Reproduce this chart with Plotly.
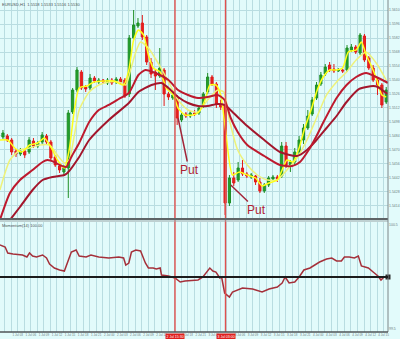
import plotly.graph_objects as go

# ---------------- data ----------------
candle_idx = list(range(89))
opens = [1.5483,1.5484,1.5480,1.5469,1.5466,1.5469,1.5468,1.5479,1.5474,1.5478,
         1.5484,1.5478,1.5463,1.5454,1.5448,1.5452,1.5508,1.5530,1.5548,1.5533,
         1.5532,1.5542,1.5538,1.5540,1.5537,1.5540,1.5538,1.5541,1.5540,1.5526,
         1.5582,1.5594,1.5597,1.5583,1.5558,1.5548,1.5544,1.5550,1.5526,1.5522,
         1.5523,1.5500,1.5506,1.5504,1.5507,1.5507,1.5515,1.5528,1.5543,1.5536,
         1.5516,1.5515,1.5417,1.5442,1.5440,1.5452,1.5446,1.5443,1.5444,1.5438,
         1.5429,1.5435,1.5441,1.5443,1.5444,1.5474,1.5455,1.5458,1.5468,1.5480,
         1.5492,1.5506,1.5522,1.5536,1.5546,1.5555,1.5551,1.5549,1.5550,1.5550,
         1.5570,1.5573,1.5567,1.5584,1.5562,1.5552,1.5540,1.5535,1.5518]
highs = [1.5490,1.5486,1.5482,1.5471,1.5472,1.5471,1.5483,1.5482,1.5479,1.5488,
         1.5486,1.5480,1.5465,1.5458,1.5455,1.5510,1.5532,1.5553,1.5550,1.5535,
         1.5546,1.5544,1.5542,1.5541,1.5542,1.5542,1.5543,1.5543,1.5542,1.5585,
         1.5610,1.5602,1.5605,1.5585,1.5562,1.5550,1.5572,1.5552,1.5528,1.5527,
         1.5525,1.5507,1.5508,1.5509,1.5510,1.5514,1.5528,1.5547,1.5545,1.5538,
         1.5520,1.5520,1.5445,1.5448,1.5458,1.5460,1.5448,1.5447,1.5445,1.5442,
         1.5437,1.5444,1.5445,1.5445,1.5478,1.5478,1.5460,1.5472,1.5484,1.5496,
         1.5510,1.5523,1.5538,1.5548,1.5556,1.5558,1.5556,1.5552,1.5551,1.5575,
         1.5576,1.5575,1.5587,1.5586,1.5564,1.5555,1.5543,1.5537,1.5533]
lows = [1.5481,1.5478,1.5465,1.5463,1.5464,1.5462,1.5466,1.5472,1.5472,1.5476,
        1.5476,1.5460,1.5453,1.5447,1.5445,1.5422,1.5506,1.5528,1.5530,1.5528,
        1.5530,1.5537,1.5536,1.5536,1.5535,1.5535,1.5536,1.5536,1.5522,1.5523,
        1.5580,1.5592,1.5580,1.5555,1.5542,1.5530,1.5542,1.5514,1.5520,1.5520,
        1.5495,1.5498,1.5502,1.5502,1.5504,1.5505,1.5512,1.5526,1.5534,1.5512,
        1.5510,1.5405,1.5414,1.5434,1.5438,1.5444,1.5442,1.5441,1.5435,1.5427,
        1.5427,1.5433,1.5439,1.5438,1.5442,1.5452,1.5448,1.5454,1.5466,1.5476,
        1.5490,1.5504,1.5520,1.5534,1.5544,1.5548,1.5547,1.5548,1.5547,1.5548,
        1.5568,1.5566,1.5565,1.5558,1.5550,1.5538,1.5525,1.5512,1.5516]
closes = [1.5487,1.5480,1.5468,1.5466,1.5469,1.5465,1.5480,1.5474,1.5477,1.5485,
          1.5478,1.5462,1.5455,1.5450,1.5452,1.5507,1.5530,1.5550,1.5532,1.5531,
          1.5542,1.5539,1.5540,1.5538,1.5540,1.5537,1.5541,1.5538,1.5524,1.5582,
          1.5595,1.5597,1.5583,1.5558,1.5546,1.5544,1.5552,1.5526,1.5523,1.5525,
          1.5502,1.5505,1.5504,1.5507,1.5506,1.5512,1.5526,1.5543,1.5536,1.5516,
          1.5513,1.5417,1.5442,1.5437,1.5452,1.5446,1.5444,1.5445,1.5438,1.5429,
          1.5435,1.5442,1.5443,1.5441,1.5474,1.5455,1.5458,1.5468,1.5480,1.5492,
          1.5504,1.5520,1.5535,1.5545,1.5553,1.5550,1.5549,1.5550,1.5549,1.5572,
          1.5573,1.5568,1.5585,1.5560,1.5552,1.5540,1.5535,1.5515,1.5530]

# moving averages (x in candle index units)
ma_fast_red_x = [-0.7,1.6,3.9,6.8,9.1,10.2,11.8,13.0,14.5,15.7,17.5,19.8,22.0,24.3,26.6,28.9,31.1,32.7,
                 35.0,38.0,40.2,42.5,44.8,47.0,49.3,50.9,52.3,53.9,56.1,60.0,63.6,66.4,68.2,70.2,72.0,
                 73.6,76.6,78.9,81.1,83.4,85.7,88.0,88.4]
ma_fast_red_y = [1.5400,1.5427,1.5440,1.5450,1.5458,1.5460,1.5458,1.5455,1.5453,1.5463,1.5477,1.5498,
                 1.5510,1.5515,1.5521,1.5527,1.5545,1.5550,1.5547,1.5540,1.5530,1.5525,1.5522,1.5523,
                 1.5525,1.5520,1.5502,1.5488,1.5475,1.5464,1.5455,1.5454,1.5458,1.5470,1.5484,1.5498,
                 1.5522,1.5535,1.5543,1.5547,1.5543,1.5538,1.5537]
ma_slow_red_x = [1.6,3.9,6.8,9.1,11.4,14.1,14.8,17.5,19.8,24.3,28.9,31.1,34.1,36.4,38.0,40.2,42.5,44.8,
                 47.0,49.3,50.9,52.7,56.1,60.0,63.6,67.5,69.8,72.0,74.3,76.6,78.9,81.8,85.0,86.1,88.0,88.4]
ma_slow_red_y = [1.5400,1.5413,1.5430,1.5440,1.5443,1.5445,1.5447,1.5463,1.5480,1.5500,1.5517,1.5528,
                 1.5535,1.5537,1.5532,1.5523,1.5517,1.5514,1.5514,1.5516,1.5515,1.5508,1.5494,1.5480,
                 1.5468,1.5464,1.5470,1.5480,1.5492,1.5504,1.5518,1.5531,1.5534,1.5533,1.5527,1.5526]
ma_fast_yel_x = [-0.7,1.1,2.7,4.3,6.1,8.0,9.5,11.1,12.5,14.1,15.2,16.4,17.5,19.3,20.9,23.2,25.5,27.7,
                 28.9,30.0,31.1,32.3,33.4,34.5,36.1,37.5,39.1,40.2,41.8,43.6,45.0,46.4,47.5,48.9,50.0,
                 51.1,52.7,54.3,56.1,58.0,59.5,61.1,63.0,64.1,65.2,66.6,68.0,69.3,70.9,72.0,73.4,75.0,
                 76.6,78.0,79.3,81.1,82.3,83.4,84.5,85.7,87.0,88.0]
ma_fast_yel_y = [1.5480,1.5480,1.5472,1.5468,1.5475,1.5477,1.5482,1.5472,1.5460,1.5452,1.5470,1.5510,
                 1.5532,1.5534,1.5538,1.5539,1.5539,1.5535,1.5550,1.5580,1.5590,1.5585,1.5565,1.5552,
                 1.5548,1.5532,1.5525,1.5512,1.5505,1.5505,1.5508,1.5520,1.5535,1.5535,1.5525,1.5490,
                 1.5445,1.5448,1.5445,1.5442,1.5434,1.5437,1.5440,1.5450,1.5460,1.5458,1.5472,1.5492,
                 1.5512,1.5528,1.5542,1.5550,1.5550,1.5552,1.5568,1.5570,1.5578,1.5565,1.5555,1.5542,
                 1.5525,1.5523]
ma_slow_yel_x = [-0.7,1.6,3.9,6.1,8.4,10.7,12.5,14.1,15.2,16.4,17.5,19.8,22.0,24.3,26.6,28.2,29.3,30.5,
                 31.6,33.4,35.2,36.8,38.4,40.2,42.5,44.8,47.0,49.3,50.7,52.0,53.9,56.1,58.4,60.7,63.0,
                 65.2,67.5,69.8,72.0,74.3,76.6,78.9,81.1,83.4,85.7,88.0]
ma_slow_yel_y = [1.5430,1.5460,1.5470,1.5472,1.5475,1.5475,1.5465,1.5457,1.5460,1.5485,1.5510,1.5528,
                 1.5535,1.5538,1.5538,1.5535,1.5550,1.5568,1.5578,1.5572,1.5560,1.5548,1.5535,1.5520,
                 1.5510,1.5508,1.5520,1.5530,1.5528,1.5500,1.5470,1.5455,1.5445,1.5440,1.5440,1.5450,
                 1.5462,1.5480,1.5502,1.5525,1.5538,1.5548,1.5560,1.5568,1.5557,1.5540]

# lower oscillator
osc_x = [-0.7,0.5,1.1,2.3,4.5,5.5,6.1,6.8,7.7,9.1,10.0,10.7,11.8,13.0,14.1,14.8,15.7,16.8,17.5,19.1,
         20.2,22.0,24.3,26.6,27.7,28.2,28.9,29.5,30.5,31.6,32.7,33.4,34.5,35.2,36.1,36.4,38.0,39.5,
         40.7,41.8,44.8,45.9,47.5,48.2,48.9,49.8,50.2,50.9,52.0,52.7,53.9,55.0,57.3,59.5,61.1,63.0,
         64.1,64.8,65.7,67.0,68.0,69.1,70.5,71.6,72.7,74.3,75.5,76.6,77.7,78.4,79.5,80.7,81.6,82.3,
         83.9,85.0,86.1,86.8,87.5,88.4]
osc_v = [100.32,100.30,100.24,100.23,100.22,100.20,100.24,100.21,100.20,100.22,100.19,100.13,100.09,
         100.07,100.06,100.15,100.25,100.27,100.21,100.20,100.22,100.20,100.19,100.20,100.19,100.12,
         100.14,100.25,100.27,100.26,100.14,100.09,100.09,100.08,100.09,100.02,100.01,99.99,99.95,
         99.96,99.97,100.00,100.09,100.06,100.05,99.99,100.00,99.84,99.80,99.85,99.87,99.89,99.88,
         99.85,99.88,99.90,99.94,100.00,99.94,99.95,100.00,100.07,100.09,100.12,100.15,100.18,100.19,
         100.16,100.16,100.20,100.20,100.19,100.21,100.11,100.09,100.05,100.01,99.97,100.00,100.00]
osc_level = 100.0

tick_labels = ["1 Jul 00","1 Jul 03","1 Jul 06","1 Jul 09","1 Jul 12","1 Jul 15",
               "1 Jul 18","1 Jul 21","2 Jul 00","2 Jul 03","2 Jul 06","2 Jul 09",
               "2 Jul 12","2 Jul 15","2 Jul 18","2 Jul 21","3 Jul 00","3 Jul 03",
               "3 Jul 06","3 Jul 09","3 Jul 12","3 Jul 15","3 Jul 18","3 Jul 21",
               "4 Jul 00","4 Jul 03","4 Jul 06","4 Jul 09","4 Jul 12","4 Jul 15"]
signal_x = [39.5, 51.1]
signal_labels = ["2 Jul 15:30", "3 Jul 03:00"]
put_points_x = [40.2, 52.3]
put_points_y = [1.5502, 1.5435]

# ---------------- styling ----------------
BG = "#e2fbfb"
GRID = "#b9dde1"
X_RANGE = [-0.68, 88.41]

fig = go.Figure()
fig.add_trace(go.Candlestick(
    x=candle_idx, open=opens, high=highs, low=lows, close=closes,
    increasing=dict(line=dict(color="#1f8f27", width=1), fillcolor="#22a22c"),
    decreasing=dict(line=dict(color="#e21b1b", width=1), fillcolor="#e81f1f"),
    whiskerwidth=0, showlegend=False, hoverinfo="skip", xaxis="x", yaxis="y"))

for xs, ys, col, w in [(ma_slow_yel_x, ma_slow_yel_y, "#eef27a", 1.5),
                       (ma_fast_yel_x, ma_fast_yel_y, "#ffff1a", 1.5),
                       (ma_slow_red_x, ma_slow_red_y, "#a3162c", 2.0),
                       (ma_fast_red_x, ma_fast_red_y, "#bd1a2e", 2.0)]:
    fig.add_trace(go.Scatter(x=xs, y=ys, mode="lines", line=dict(color=col, width=w, shape="spline", smoothing=0.6),
                             showlegend=False, hoverinfo="skip", xaxis="x", yaxis="y"))

fig.add_trace(go.Scatter(x=osc_x, y=osc_v, mode="lines", line=dict(color="#a5303a", width=1.5),
                         showlegend=False, hoverinfo="skip", xaxis="x2", yaxis="y2"))
fig.add_trace(go.Scatter(x=[X_RANGE[1]], y=[osc_level], mode="markers",
                         marker=dict(symbol="square", size=5, color="#2a2a2a"), cliponaxis=False,
                         showlegend=False, hoverinfo="skip", xaxis="x2", yaxis="y2"))

# tick positions: label every 3 candles, grid every 1.5; labels hidden under signal boxes
tickvals, ticktext = [], []
for k, lab in enumerate(tick_labels):
    pos = 0.4 + 3 * k
    hidden = any(abs(pos - s) < 2.6 for s in signal_x)
    tickvals += [pos, pos + 1.5]
    ticktext += ["" if hidden else lab, ""]

main_dom = [0.3404, 1.0]
low_dom = [0.0, 0.3313]

fig.update_layout(
    width=400, height=339,
    margin=dict(l=0, r=8, t=0, b=7),
    paper_bgcolor=BG, plot_bgcolor=BG,
    font=dict(family="Liberation Sans, Arial, sans-serif", size=4, color="#6d7b7d"),
    xaxis=dict(domain=[0, 1], anchor="y", range=X_RANGE, tickmode="array", tickvals=tickvals,
               showticklabels=False, showgrid=True, gridcolor=GRID, gridwidth=1, zeroline=False,
               rangeslider=dict(visible=False), fixedrange=True),
    xaxis2=dict(domain=[0, 1], anchor="y2", matches="x", range=X_RANGE, tickmode="array",
                tickvals=tickvals, ticktext=ticktext, showgrid=True, gridcolor=GRID, gridwidth=1,
                zeroline=False, ticks="", tickfont=dict(size=3, color="#6d7b7d"), tickangle=0),
    yaxis=dict(domain=main_dom, anchor="x", side="right", range=[1.5401, 1.5620], tick0=1.5610,
               dtick=0.0014, tickformat=".4f", showgrid=True, gridcolor=GRID, zeroline=False,
               ticks="", tickfont=dict(size=3.5, color="#6d7b7d")),
    yaxis2=dict(domain=low_dom, anchor="x2", side="right", range=[99.45, 100.55],
                tickmode="array", tickvals=[100.52, 99.48], ticktext=["100.5", "99.5"],
                showgrid=False, zeroline=False, ticks="", tickfont=dict(size=3.5, color="#6d7b7d")),
    showlegend=False,
)

shapes = []
for sx in signal_x:
    shapes.append(dict(type="line", xref="x", yref="paper", x0=sx, x1=sx, y0=0, y1=1,
                       line=dict(color="#e0504e", width=1.4), layer="above"))
shapes += [
    dict(type="line", xref="paper", yref="paper", x0=0, x1=1, y0=main_dom[0], y1=main_dom[0],
         line=dict(color="#5e6466", width=2)),
    dict(type="line", xref="paper", yref="paper", x0=0, x1=1, y0=0.3343, y1=0.3343,
         line=dict(color="#9aa6a8", width=1)),
    dict(type="line", xref="paper", yref="paper", x0=1, x1=1, y0=0, y1=1,
         line=dict(color="#7d8688", width=1)),
    dict(type="line", xref="paper", yref="paper", x0=0, x1=1, y0=0, y1=0,
         line=dict(color="#4f5557", width=1.5)),
    dict(type="line", xref="paper", yref="y2", x0=0, x1=1, y0=osc_level, y1=osc_level,
         line=dict(color="#1c1c1c", width=2)),
]
fig.update_layout(shapes=shapes)

ann = []
for px, py, ax, ay in [(put_points_x[0], put_points_y[0], 11, 52), (put_points_x[1], put_points_y[1], 26, 25)]:
    ann.append(dict(x=px, y=py, xref="x", yref="y", text="Put", showarrow=True, arrowhead=0,
                    arrowwidth=1.5, arrowcolor="#a3263a", ax=ax, ay=ay, standoff=0,
                    font=dict(family="Liberation Sans Narrow, Arial Narrow, Liberation Sans", size=12,
                              color="#b02232")))
for sx, lab in zip(signal_x, signal_labels):
    ann.append(dict(x=sx, y=0, xref="x2", yref="paper", yanchor="top", yshift=-1, text=lab,
                    showarrow=False, bgcolor="#e0201e", borderpad=0.5,
                    font=dict(size=3.5, color="#ffffff")))
ann.append(dict(x=0, y=1, xref="paper", yref="paper", xanchor="left", yanchor="top",
                text="EURUSD,H1  1.5518 1.5533 1.5516 1.5530", showarrow=False,
                font=dict(size=4, color="#4a5254")))
ann.append(dict(x=0, y=0.3333, xref="paper", yref="paper", xanchor="left", yanchor="top",
                text="Momentum(14) 100.00", showarrow=False, font=dict(size=4, color="#4a5254")))
fig.update_layout(annotations=ann)

fig.write_html("out.html")
